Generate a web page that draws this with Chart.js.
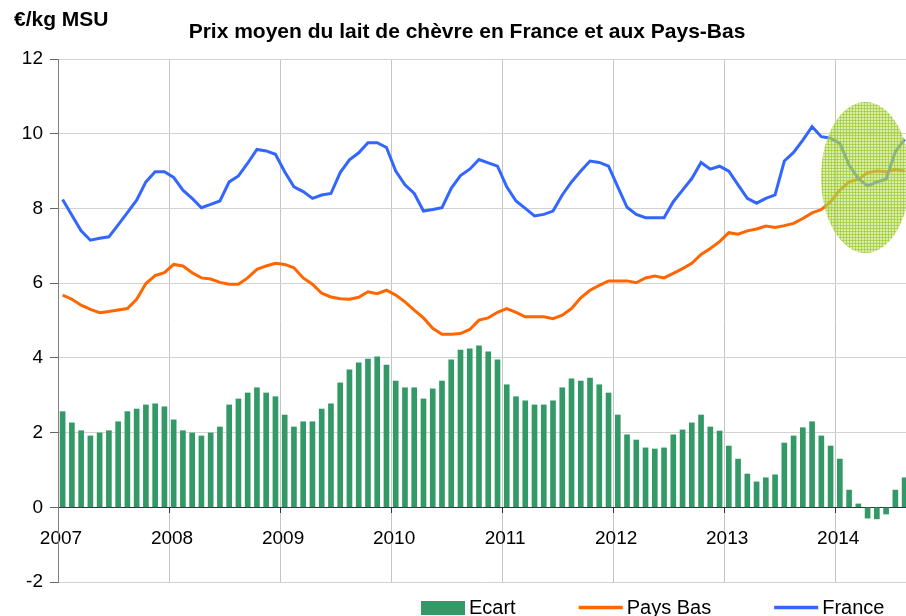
<!DOCTYPE html>
<html lang="fr">
<head>
<meta charset="utf-8">
<title>Prix moyen du lait de chèvre</title>
<script src="https://cdn.jsdelivr.net/npm/chart.js@4.4.0/dist/chart.umd.min.js"></script>
<style>
	html, body { margin: 0; padding: 0; background: #fff; overflow: hidden; }
</style>
</head>
<body>
<canvas id="prixLait" width="906" height="616"></canvas>
<script>
// données mensuelles, janv. 2007 -> août 2014, en €/kg MSU
const annees = ['2007', '2008', '2009', '2010', '2011', '2012', '2013', '2014'];

const france = [
	8.24, 7.82, 7.40, 7.15, 7.20, 7.24, 7.56, 7.89, 8.22, 8.71, 8.98, 8.98,
	8.83, 8.49, 8.27, 8.02, 8.11, 8.20, 8.71, 8.87, 9.21, 9.58, 9.54, 9.45,
	8.98, 8.58, 8.45, 8.27, 8.36, 8.40, 8.96, 9.30, 9.49, 9.76, 9.76, 9.63,
	9.00, 8.63, 8.40, 7.93, 7.97, 8.02, 8.54, 8.88, 9.05, 9.31, 9.22, 9.13,
	8.58, 8.20, 8.00, 7.80, 7.84, 7.93, 8.36, 8.71, 9.00, 9.27, 9.23, 9.13,
	8.58, 8.03, 7.84, 7.75, 7.75, 7.75, 8.18, 8.49, 8.80, 9.23, 9.05, 9.13,
	9.00, 8.63, 8.27, 8.14, 8.27, 8.36, 9.27, 9.50, 9.83, 10.19, 9.92, 9.88,
	9.74, 9.16, 8.80, 8.60, 8.71, 8.78, 9.52, 9.85
];

const paysBas = [
	5.68, 5.57, 5.41, 5.30, 5.21, 5.24, 5.28, 5.32, 5.57, 5.99, 6.20, 6.28,
	6.50, 6.46, 6.28, 6.14, 6.11, 6.02, 5.97, 5.97, 6.14, 6.37, 6.46, 6.53,
	6.50, 6.41, 6.14, 5.97, 5.73, 5.63, 5.58, 5.57, 5.62, 5.77, 5.72, 5.81,
	5.68, 5.50, 5.28, 5.07, 4.79, 4.63, 4.63, 4.65, 4.76, 5.01, 5.07, 5.22,
	5.32, 5.22, 5.10, 5.10, 5.10, 5.05, 5.14, 5.32, 5.61, 5.81, 5.94, 6.06,
	6.06, 6.06, 6.01, 6.14, 6.19, 6.14, 6.26, 6.39, 6.53, 6.77, 6.93, 7.11,
	7.35, 7.31, 7.40, 7.45, 7.53, 7.49, 7.54, 7.60, 7.73, 7.88, 7.97, 8.18,
	8.49, 8.71, 8.78, 8.96, 9.00, 8.98, 9.05, 9.00
];

const ecart = [
	2.56, 2.26, 2.05, 1.91, 1.99, 2.05, 2.29, 2.56, 2.63, 2.74, 2.77, 2.69,
	2.34, 2.05, 1.99, 1.91, 1.99, 2.15, 2.74, 2.90, 3.06, 3.20, 3.06, 2.96,
	2.47, 2.15, 2.29, 2.29, 2.63, 2.77, 3.33, 3.68, 3.87, 3.97, 4.03, 3.81,
	3.38, 3.20, 3.20, 2.90, 3.17, 3.38, 3.95, 4.21, 4.24, 4.32, 4.16, 3.95,
	3.28, 2.96, 2.85, 2.74, 2.74, 2.85, 3.20, 3.44, 3.38, 3.46, 3.28, 3.06,
	2.47, 1.94, 1.80, 1.59, 1.56, 1.59, 1.94, 2.07, 2.26, 2.47, 2.15, 2.04,
	1.64, 1.29, 0.89, 0.68, 0.79, 0.87, 1.72, 1.91, 2.13, 2.29, 1.91, 1.64,
	1.29, 0.46, 0.09, -0.29, -0.31, -0.18, 0.46, 0.79
];

const titre = 'Prix moyen du lait de chèvre en France et aux Pays-Bas';
const police = '"Liberation Sans", Arial, sans-serif';

// chaque mois est centré dans sa case (index + 0.5)
function enPoints(valeurs) {
	return valeurs.map((v, i) => ({ x: i + 0.5, y: v }));
}

// titre + unité
const entete = {
	id: 'entete',
	afterDraw(chart) {
		const ctx = chart.ctx;
		ctx.save();
		ctx.fillStyle = '#000';
		ctx.font = 'bold 21px ' + police;
		ctx.textAlign = 'left';
		ctx.fillText('€/kg MSU', 14, 26);
		ctx.textAlign = 'center';
		ctx.fillText(titre, 467, 38);
		ctx.restore();
	}
};

// ellipse verte sur la fin de période
const ellipse = {
	id: 'ellipse',
	afterDatasetsDraw(chart) {
		const ctx = chart.ctx;
		const x = chart.scales.x, y = chart.scales.y;
		const motif = document.createElement('canvas');
		motif.width = 3; motif.height = 3;
		const m = motif.getContext('2d');
		m.fillStyle = 'rgba(192,224,105,0.58)';
		m.fillRect(0, 0, 3, 3);
		m.fillStyle = 'rgba(150,198,40,0.6)';
		m.fillRect(0, 0, 3, 1);
		m.fillRect(0, 0, 1, 3);
		const cx = x.getPixelForValue(87.27), cy = y.getPixelForValue(8.83);
		const rx = x.getPixelForValue(87.27 + 4.81) - cx;
		const ry = cy - y.getPixelForValue(8.83 + 2.02);
		ctx.save();
		ctx.fillStyle = ctx.createPattern(motif, 'repeat');
		ctx.beginPath();
		ctx.ellipse(cx, cy, rx, ry, 0, 0, Math.PI * 2);
		ctx.fill();
		ctx.restore();
	}
};

// légende en bas
const legende = {
	id: 'legende',
	afterDraw(chart) {
		const ctx = chart.ctx;
		ctx.save();
		ctx.font = '20px ' + police;
		ctx.textAlign = 'left';
		let x = 421;
		chart.data.datasets.forEach(ds => {
			if (ds.type === 'bar') {
				ctx.fillStyle = ds.backgroundColor;
				ctx.fillRect(x, 601, 44, 14);
			} else {
				ctx.strokeStyle = ds.borderColor;
				ctx.lineWidth = 3.5;
				ctx.beginPath();
				ctx.moveTo(x, 607.5);
				ctx.lineTo(x + 44, 607.5);
				ctx.stroke();
			}
			ctx.fillStyle = '#000';
			ctx.fillText(ds.label, x + 48, 613.5);
			x += 48 + ctx.measureText(ds.label).width + 63;
		});
		ctx.restore();
	}
};

new Chart(document.getElementById('prixLait'), {
	data: {
		datasets: [{
			type: 'bar',
			label: 'Ecart',
			data: enPoints(ecart),
			backgroundColor: '#339966',
			barThickness: 5,
			order: 3
		}, {
			type: 'line',
			label: 'Pays Bas',
			data: enPoints(paysBas),
			borderColor: '#ff6600',
			borderWidth: 3,
			pointRadius: 0,
			tension: 0,
			order: 2
		}, {
			type: 'line',
			label: 'France',
			data: enPoints(france),
			borderColor: '#3366ff',
			borderWidth: 3,
			pointRadius: 0,
			tension: 0,
			order: 1
		}]
	},
	options: {
		responsive: false,
		animation: false,
		layout: { padding: { top: 59, bottom: 34, left: 0, right: 0 } },
		plugins: {
			legend: { display: false },
			title: { display: false },
			tooltip: { enabled: false }
		},
		scales: {
			x: {
				type: 'linear',
				position: { y: 0 },
				min: 0,
				max: 91.65,
				offset: false,
				grid: {
					color: '#c4c4c4',
					tickColor: '#333',
					tickLength: 6,
					offset: false
				},
				border: { display: false },
				ticks: {
					padding: 14,
					labelOffset: 3,
					color: '#000',
					font: { family: police, size: 19 },
					maxRotation: 0,
					autoSkip: false,
					callback: v => annees[v / 12]
				},
				// un trait par année (tous les 12 mois)
				afterBuildTicks: s => {
					s.ticks = annees.map((a, i) => ({ value: i * 12 }));
				}
			},
			y: {
				min: -2,
				max: 12,
				grid: {
					color: c => (c.tick && c.tick.value === 0 ? '#333' : '#d2d2d2'),
					tickColor: '#666',
					tickLength: 8
				},
				border: { color: '#808080' },
				ticks: {
					stepSize: 2,
					padding: 7,
					color: '#000',
					font: { family: police, size: 19 }
				},
				afterFit: s => { s.width = 58; }
			}
		}
	},
	plugins: [ellipse, entete, legende]
});
</script>
</body>
</html>
